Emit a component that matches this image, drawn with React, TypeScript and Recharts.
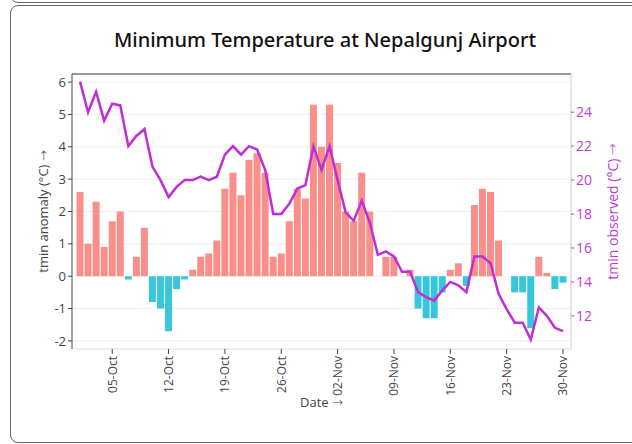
import React from 'react';
import {
  ComposedChart,
  Bar,
  Line,
  Cell,
  XAxis,
  YAxis,
  CartesianGrid,
  ReferenceLine,
} from 'recharts';

const pad = (n: number) => (n < 10 ? `0${n}` : `${n}`);

// one category per day, 01-Oct .. 30-Nov
const dates = [
  ...Array.from({ length: 31 }, (_, i) => `${pad(i + 1)}-Oct`),
  ...Array.from({ length: 30 }, (_, i) => `${pad(i + 1)}-Nov`),
];

const tickLabels = ['05-Oct', '12-Oct', '19-Oct', '26-Oct', '02-Nov', '09-Nov', '16-Nov', '23-Nov', '30-Nov'];

// tmin anomaly (°C), left axis
const anomaly = [
  2.6, 1.0, 2.3, 0.9, 1.7, 2.0, -0.1, 0.6, 1.5, -0.8, -1.0, -1.7, -0.4, -0.1, 0.2, 0.6,
  0.7, 1.1, 2.7, 3.2, 2.5, 3.6, 3.8, 3.2, 0.6, 0.7, 1.7, 2.7, 2.4, 5.3, 4.0,
  5.3, 3.5, 2.0, 1.7, 3.2, 2.0, 0, 0.6, 0.6, 0, 0.2, -1.0, -1.3, -1.3, -0.5, 0.2,
  0.4, -0.3, 2.2, 2.7, 2.6, 1.1, 0, -0.5, -0.5, -1.6, 0.6, 0.1, -0.4, -0.2,
];

// tmin observed (°C), right axis
const observed = [
  25.8, 24.0, 25.2, 23.5, 24.5, 24.4, 22.0, 22.6, 23.0, 20.8, 20.0, 19.0, 19.6, 20.0, 20.0, 20.2,
  20.0, 20.2, 21.5, 22.0, 21.5, 22.0, 21.8, 20.6, 18.0, 18.0, 18.6, 19.5, 19.7, 22.0, 20.6,
  22.0, 20.0, 18.1, 17.6, 18.8, 17.5, 15.6, 15.8, 15.5, 14.6, 14.6, 13.4, 13.1, 12.9, 13.5, 14.0,
  13.8, 13.4, 15.5, 15.5, 15.1, 13.3, 12.4, 11.6, 11.6, 10.6, 12.5, 12.0, 11.3, 11.1,
];

const leftTicks = [-2, -1, 0, 1, 2, 3, 4, 5, 6];
const rightTicks = [12, 14, 16, 18, 20, 22, 24];

const data = dates.map((date, i) => ({ date, anomaly: anomaly[i], observed: observed[i] }));

const FONT = '"Open Sans", "Noto Sans", sans-serif';
const TITLE_FONT = '"Noto Sans", "Open Sans", sans-serif';
const ARROW_FONT = '"DejaVu Sans", sans-serif';
const AXIS = '#444';
const PURPLE = '#bf2ed6';
const PURPLE_TEXT = '#c23bd3';
const WARM = '#f98f8a';
const COLD = '#38c6dc';

const DateTick = (props: any) => {
  const { x, y, payload } = props;
  if (!tickLabels.includes(payload.value)) return <g />;
  return (
    <g transform={`translate(${x},${y})`}>
      <line x1={0} y1={0} x2={0} y2={5} stroke={AXIS} />
      <text
        transform="rotate(-90)"
        x={-7}
        y={0}
        dy={4.5}
        textAnchor="end"
        fill={AXIS}
        fontSize={12}
        fontFamily={FONT}
      >
        {payload.value}
      </text>
    </g>
  );
};

// axis title with its trailing arrow
const Title = ({ x, y, text, color, size, rotate }: any) => (
  <text
    x={x}
    y={y}
    transform={rotate ? `rotate(-90, ${x}, ${y})` : undefined}
    textAnchor="middle"
    dominantBaseline="central"
    fill={color}
    fontSize={size}
    fontFamily={FONT}
  >
    {text} <tspan fontFamily={ARROW_FONT} fontWeight={200}>→</tspan>
  </text>
);

const sideLabel = (text: string, dx: number, color: string, size: number) => (props: any) => {
  const { x, y, height } = props.viewBox;
  return <Title x={x + dx} y={y + height / 2} text={text} color={color} size={size} rotate />;
};

const dateLabel = (props: any) => {
  const { x, width } = props.viewBox;
  return <Title x={x + width / 2} y={402} text="Date" color={AXIS} size={13} />;
};

export default function App() {
  return (
    <div
      style={{
        position: 'absolute',
        left: 0,
        top: 0,
        width: 632,
        height: 444,
        overflow: 'hidden',
        background: '#fff',
        fontFamily: FONT,
      }}
    >
      {/* bits of the surrounding page cards */}
      <div
        style={{
          position: 'absolute',
          left: 10,
          top: -30,
          width: 700,
          height: 31,
          border: '1px solid #666',
          borderRadius: 8,
        }}
      />
      <div
        style={{
          position: 'absolute',
          left: 10,
          top: 5,
          width: 700,
          height: 436,
          border: '1px solid #666',
          borderRadius: 8,
        }}
      />

      <div
        style={{
          position: 'absolute',
          left: 0,
          top: 27,
          width: 650,
          textAlign: 'center',
          fontSize: 20,
          lineHeight: '26px',
          fontWeight: 500,
          fontFamily: TITLE_FONT,
          color: '#111',
        }}
      >
        Minimum Temperature at Nepalgunj Airport
      </div>

      <div style={{ position: 'absolute', left: 0, top: 0 }}>
        <ComposedChart
          width={632}
          height={444}
          data={data}
          margin={{ top: 74, right: 0, bottom: 0, left: 0 }}
          barCategoryGap={0.5}
        >
          <CartesianGrid yAxisId="left" vertical={false} stroke="#eee" horizontalValues={leftTicks} />
          <XAxis
            dataKey="date"
            interval={0}
            height={95}
            padding={{ left: 4, right: 4 }}
            tickLine={false}
            tickSize={0}
            tickMargin={0}
            tick={<DateTick />}
            axisLine={{ stroke: '#ddd' }}
            label={{ content: dateLabel }}
          />
          <YAxis
            yAxisId="left"
            width={72}
            domain={[-2.25, 6.25]}
            ticks={leftTicks}
            allowDataOverflow
            tickSize={4}
            tickMargin={2}
            axisLine={{ stroke: AXIS }}
            tickLine={{ stroke: AXIS }}
            tick={{ fill: AXIS, fontSize: 13, fontFamily: FONT }}
            label={{ content: sideLabel('tmin anomaly (°C)', 43, AXIS, 13) }}
          />
          <YAxis
            yAxisId="right"
            orientation="right"
            width={61}
            domain={[10.05, 26.25]}
            ticks={rightTicks}
            allowDataOverflow
            tickSize={3}
            tickMargin={2}
            axisLine={{ stroke: '#ccc' }}
            tickLine={{ stroke: PURPLE_TEXT }}
            tick={{ fill: PURPLE_TEXT, fontSize: 14, fontFamily: FONT }}
            label={{ content: sideLabel('tmin observed (°C)', 41, PURPLE_TEXT, 14) }}
          />
          <ReferenceLine yAxisId="left" y={6.25} stroke="#333" />
          <Bar yAxisId="left" dataKey="anomaly" isAnimationActive={false}>
            {data.map((d, i) => (
              <Cell key={i} fill={d.anomaly >= 0 ? WARM : COLD} />
            ))}
          </Bar>
          <Line
            yAxisId="right"
            type="linear"
            dataKey="observed"
            stroke={PURPLE}
            strokeWidth={2.5}
            dot={false}
            isAnimationActive={false}
          />
        </ComposedChart>
      </div>
    </div>
  );
}
